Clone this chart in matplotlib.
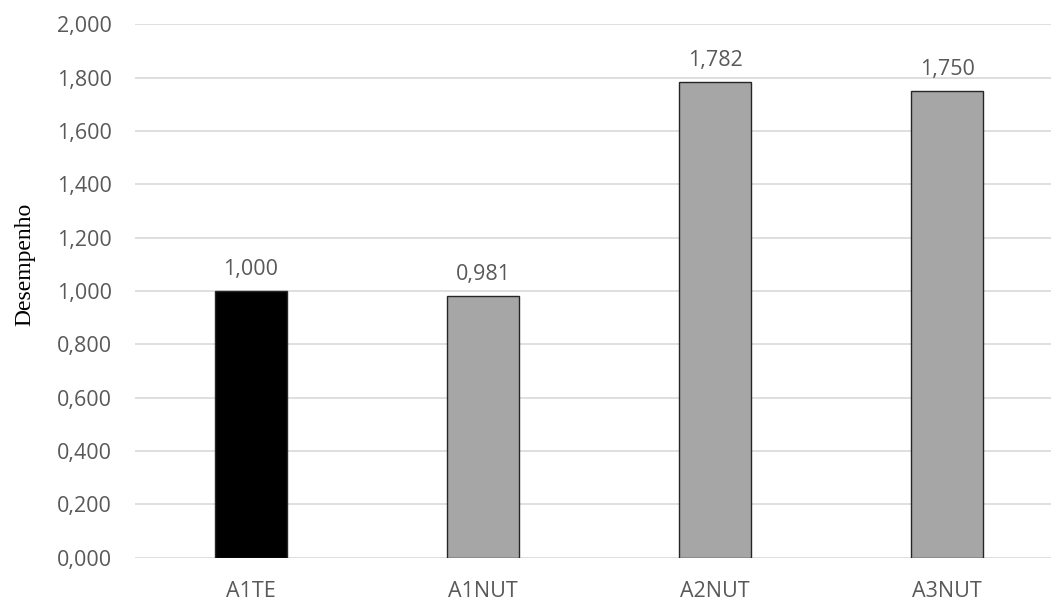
import matplotlib.pyplot as plt

categories = ['A1TE', 'A1NUT', 'A2NUT', 'A3NUT']
values = [1.000, 0.981, 1.782, 1.750]
bar_colors = ['#000000', '#A6A6A6', '#A6A6A6', '#A6A6A6']
yticks = [0.0, 0.2, 0.4, 0.6, 0.8, 1.0, 1.2, 1.4, 1.6, 1.8, 2.0]


def fmt(v):
    # decimal comma, three places
    return ('%.3f' % v).replace('.', ',')


plt.rcParams['font.family'] = ['Open Sans', 'DejaVu Sans']

fig = plt.figure(figsize=(10.51, 5.97), dpi=100)
ax = fig.add_axes([135 / 1051, 39.3 / 597, 928 / 1051, 533.4 / 597])

x = list(range(len(categories)))
bars = ax.bar(x, values, width=0.31, color=bar_colors,
              edgecolor='#262626', linewidth=1.0, zorder=3)

for xi, v in zip(x, values):
    ax.annotate(fmt(v), (xi, v), xytext=(0, 8), textcoords='offset points',
                ha='center', va='bottom', fontsize=15.5, color='#595959')

ax.set_xlim(-0.5, 3.5)
ax.set_ylim(0, 2.0)
ax.set_yticks(yticks)
ax.set_yticklabels([fmt(t) for t in yticks])
ax.set_xticks(x)
ax.set_xticklabels(categories)
ax.tick_params(axis='both', length=0, labelsize=15.5, labelcolor='#595959')
ax.tick_params(axis='y', pad=16.5)
ax.tick_params(axis='x', pad=17)

ax.grid(axis='y', color='#D9D9D9', linewidth=1.2, zorder=0)
ax.set_axisbelow(True)
for s in ax.spines.values():
    s.set_visible(False)

ax.set_ylabel('Desempenho', family='Liberation Serif', fontsize=17,
              color='black')
ax.yaxis.set_label_coords(-0.107, 0.55)

fig.savefig('out.png', dpi=100)
